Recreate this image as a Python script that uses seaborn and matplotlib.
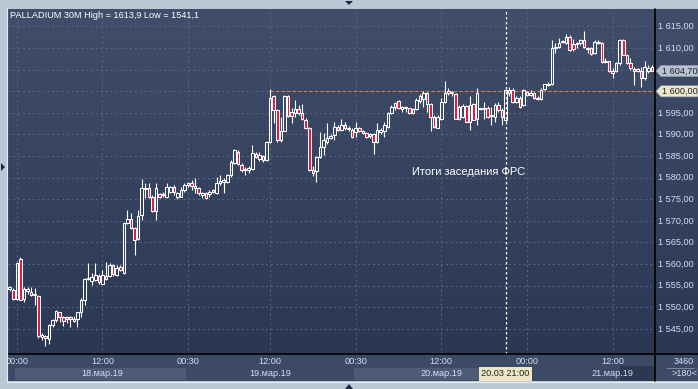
import numpy as np
import pandas as pd
import matplotlib
matplotlib.use("Agg")
import matplotlib.pyplot as plt
import seaborn as sns
from matplotlib.patches import Rectangle, Polygon
from matplotlib.colors import LinearSegmentedColormap

# ---------------- data (30-minute candles, palladium) ----------------
opens = [1554.3, 1554.0, 1551.9, 1561.1, 1552.0, 1553.7, 1553.5, 1552.9, 1552.6, 1543.2,
         1543.4, 1542.6, 1545.9, 1547.1, 1548.8, 1547.7, 1547.2, 1547.7, 1546.9, 1547.4,
         1548.8, 1551.7, 1556.5, 1556.0, 1556.3, 1557.2, 1555.5, 1557.2, 1557.2, 1559.8,
         1557.5, 1559.4, 1557.9, 1569.4, 1570.4, 1568.3, 1565.7, 1571.4, 1577.4, 1577.5,
         1575.5, 1572.4, 1576.2, 1576.0, 1575.6, 1576.8, 1577.9, 1575.6, 1575.6, 1577.1,
         1578.3, 1578.8, 1578.1, 1577.5, 1576.0, 1576.5, 1576.2, 1577.1, 1576.4, 1578.7,
         1578.9, 1579.1, 1580.6, 1583.3, 1586.0, 1582.9, 1581.7, 1581.8, 1582.0, 1585.6,
         1584.3, 1585.0, 1584.1, 1588.3, 1598.8, 1595.7, 1588.7, 1590.9, 1598.8, 1595.1,
         1594.9, 1595.8, 1594.9, 1593.4, 1591.4, 1581.8, 1581.6, 1584.7, 1587.2, 1588.3,
         1589.3, 1589.9, 1591.8, 1591.0, 1592.2, 1591.3, 1591.0, 1590.5, 1591.6, 1590.8,
         1590.3, 1589.7, 1590.0, 1588.3, 1590.5, 1590.8, 1591.8, 1594.9, 1596.4, 1597.7,
         1596.0, 1596.1, 1596.1, 1594.9, 1595.8, 1597.8, 1598.2, 1599.5, 1597.0, 1594.1,
         1591.6, 1593.7, 1597.6, 1600.1, 1599.6, 1599.3, 1593.7, 1594.1, 1596.7, 1593.0,
         1597.0, 1593.6, 1595.9, 1595.9, 1596.1, 1594.3, 1594.1, 1596.8, 1595.7, 1593.4,
         1599.6, 1600.3, 1597.5, 1598.5, 1596.8, 1599.9, 1599.2, 1599.5, 1598.2, 1598.2,
         1600.5, 1601.5, 1601.6, 1610.1, 1610.3, 1611.3, 1611.1, 1612.6, 1610.9, 1610.9,
         1611.1, 1611.9, 1609.9, 1610.0, 1608.8, 1611.1, 1611.1, 1606.7, 1606.9, 1604.7,
         1604.6, 1606.5, 1611.9, 1608.4, 1606.5, 1605.2, 1605.1, 1604.6, 1603.0, 1604.7,
         1605.7]
highs = [1555.0, 1554.4, 1560.4, 1561.6, 1554.6, 1554.6, 1554.6, 1554.4, 1552.9, 1544.0,
         1543.6, 1546.1, 1547.4, 1549.4, 1549.0, 1548.0, 1548.0, 1547.9, 1547.9, 1549.0,
         1552.2, 1556.7, 1560.2, 1557.9, 1560.2, 1557.7, 1558.6, 1560.6, 1560.2, 1560.0,
         1559.8, 1559.8, 1569.8, 1572.5, 1571.9, 1568.7, 1572.5, 1579.6, 1578.7, 1578.7,
         1576.0, 1578.7, 1576.5, 1576.8, 1578.7, 1578.1, 1578.3, 1576.8, 1577.8, 1578.8,
         1579.1, 1579.5, 1579.9, 1577.9, 1576.8, 1576.8, 1577.1, 1577.3, 1580.2, 1580.6,
         1579.9, 1580.8, 1584.1, 1586.6, 1586.3, 1583.3, 1582.4, 1582.7, 1587.6, 1586.0,
         1586.0, 1585.3, 1588.6, 1600.5, 1599.2, 1595.8, 1594.1, 1599.2, 1599.2, 1596.1,
         1598.0, 1596.8, 1597.1, 1593.8, 1591.7, 1582.6, 1585.0, 1590.6, 1590.3, 1592.6,
         1590.0, 1593.0, 1592.2, 1593.7, 1593.0, 1592.0, 1591.4, 1593.0, 1591.8, 1591.0,
         1590.5, 1590.3, 1590.3, 1592.6, 1591.4, 1592.8, 1595.3, 1596.8, 1597.6, 1598.0,
         1596.7, 1596.7, 1596.2, 1596.2, 1598.4, 1599.3, 1600.1, 1599.8, 1597.2, 1594.4,
         1594.5, 1598.4, 1602.4, 1600.8, 1600.1, 1599.5, 1596.8, 1597.0, 1596.8, 1598.8,
         1597.2, 1600.7, 1596.2, 1597.6, 1596.5, 1596.4, 1597.2, 1597.6, 1596.1, 1600.5,
         1601.1, 1600.8, 1598.8, 1598.8, 1600.5, 1600.1, 1600.3, 1599.9, 1598.8, 1600.7,
         1601.8, 1602.1, 1611.9, 1611.1, 1612.3, 1611.9, 1613.2, 1613.0, 1612.0, 1611.5,
         1612.1, 1613.9, 1610.3, 1610.3, 1611.9, 1611.9, 1611.3, 1607.6, 1607.0, 1605.3,
         1606.7, 1612.1, 1612.1, 1608.6, 1607.8, 1605.7, 1605.5, 1605.7, 1606.9, 1606.1,
         1606.0]
lows = [1553.8, 1551.7, 1551.7, 1551.7, 1551.3, 1553.1, 1552.5, 1550.5, 1542.8, 1542.4,
        1541.1, 1541.5, 1545.5, 1546.7, 1546.7, 1545.7, 1546.4, 1545.5, 1546.7, 1545.5,
        1547.8, 1550.5, 1556.3, 1555.2, 1556.2, 1555.5, 1555.4, 1556.3, 1557.1, 1557.2,
        1557.2, 1558.4, 1557.7, 1569.3, 1568.1, 1562.1, 1565.6, 1570.2, 1575.2, 1575.2,
        1572.1, 1570.2, 1575.2, 1575.5, 1575.2, 1576.4, 1576.0, 1575.0, 1575.5, 1576.8,
        1577.9, 1577.1, 1576.4, 1576.0, 1575.2, 1575.0, 1575.6, 1576.4, 1576.3, 1578.3,
        1576.4, 1578.8, 1580.2, 1583.2, 1582.9, 1581.4, 1580.6, 1581.2, 1581.8, 1584.5,
        1583.9, 1583.7, 1583.9, 1588.1, 1592.6, 1588.3, 1588.3, 1590.7, 1594.1, 1592.6,
        1594.1, 1594.5, 1593.4, 1591.2, 1581.6, 1580.4, 1579.1, 1584.5, 1585.3, 1587.9,
        1588.9, 1588.7, 1590.7, 1590.7, 1591.0, 1590.9, 1589.1, 1589.5, 1590.5, 1590.0,
        1589.3, 1589.3, 1585.4, 1588.0, 1590.0, 1589.5, 1591.6, 1594.7, 1595.7, 1595.9,
        1595.3, 1595.3, 1594.7, 1594.7, 1595.7, 1597.2, 1596.4, 1595.1, 1590.7, 1591.6,
        1591.4, 1593.3, 1597.2, 1599.1, 1599.0, 1593.6, 1593.3, 1593.9, 1592.8, 1591.0,
        1593.3, 1592.2, 1595.6, 1593.7, 1593.9, 1592.2, 1593.0, 1595.3, 1592.2, 1593.0,
        1598.8, 1597.2, 1597.2, 1596.2, 1596.6, 1598.8, 1598.8, 1598.2, 1598.0, 1598.0,
        1600.3, 1601.3, 1601.5, 1608.8, 1610.0, 1611.1, 1610.9, 1609.3, 1609.3, 1610.0,
        1610.7, 1610.1, 1608.8, 1608.3, 1608.6, 1610.9, 1606.5, 1606.5, 1604.4, 1603.0,
        1604.4, 1606.2, 1608.3, 1606.3, 1605.0, 1601.5, 1604.4, 1601.1, 1602.6, 1604.2,
        1604.6]
closes = [1554.6, 1552.0, 1560.2, 1551.8, 1554.3, 1554.2, 1552.8, 1552.8, 1543.4, 1543.7,
          1542.8, 1545.9, 1547.1, 1549.2, 1547.7, 1546.9, 1547.7, 1547.2, 1547.4, 1548.8,
          1551.8, 1556.5, 1556.8, 1557.0, 1557.5, 1555.9, 1557.5, 1556.5, 1559.8, 1557.7,
          1559.2, 1558.6, 1569.4, 1570.4, 1568.3, 1565.6, 1571.1, 1577.5, 1577.7, 1575.5,
          1572.4, 1577.5, 1575.6, 1576.2, 1577.8, 1577.8, 1576.8, 1576.4, 1577.1, 1578.3,
          1578.7, 1578.1, 1577.5, 1576.4, 1576.5, 1575.2, 1576.8, 1576.7, 1578.7, 1579.2,
          1579.5, 1580.6, 1583.7, 1586.3, 1583.2, 1581.8, 1582.0, 1582.2, 1585.8, 1584.7,
          1585.3, 1584.1, 1588.3, 1598.4, 1595.7, 1588.7, 1590.9, 1598.8, 1594.3, 1594.3,
          1595.8, 1594.9, 1593.7, 1591.4, 1581.8, 1581.2, 1584.9, 1587.2, 1588.7, 1589.1,
          1589.7, 1591.8, 1591.0, 1592.2, 1591.4, 1591.6, 1589.5, 1591.4, 1590.8, 1590.3,
          1589.5, 1590.0, 1588.3, 1591.0, 1591.0, 1592.2, 1594.9, 1596.4, 1597.4, 1596.1,
          1596.3, 1596.2, 1594.9, 1595.8, 1598.0, 1598.8, 1599.5, 1597.0, 1594.1, 1591.8,
          1594.1, 1597.6, 1599.5, 1599.5, 1599.8, 1593.7, 1596.4, 1596.7, 1593.0, 1596.8,
          1593.4, 1599.5, 1596.1, 1596.1, 1594.1, 1594.5, 1596.8, 1595.7, 1594.1, 1600.3,
          1600.2, 1597.6, 1598.4, 1596.4, 1600.3, 1599.2, 1599.5, 1598.4, 1598.5, 1600.3,
          1601.6, 1601.8, 1610.1, 1610.3, 1611.1, 1611.6, 1612.6, 1609.6, 1609.7, 1611.1,
          1611.9, 1610.3, 1610.1, 1608.6, 1611.5, 1611.5, 1606.7, 1607.0, 1604.6, 1604.2,
          1606.5, 1611.9, 1608.4, 1606.5, 1605.5, 1604.6, 1604.6, 1603.0, 1605.7, 1605.5,
          1604.7]

time_labels = ["00:00", "12:00", "00:30", "12:00", "00:30", "12:00", "00:00", "12:00"]
time_bars = [2, 26, 50, 73, 97, 121, 145, 169]          # candle index of each time label
date_labels = ["18.мар.19", "19.мар.19", "20.мар.19", "21.мар.19"]
date_bars = [26, 73, 121, 169]
day_start_bars = [2, 50, 97, 145]
price_ticks = list(range(1545, 1620, 5))
last_price = 1604.70
level_price = 1600.00
level_start_bar = 73
cursor_bar = 139
cursor_label = "20.03 21:00"
title = "PALLADIUM 30M High = 1613,9 Low = 1541,1"
note = "Итоги заседания ФРС"
bars_info = ["3460", ">180<"]

df = pd.DataFrame({"open": opens, "high": highs, "low": lows, "close": closes})
df["bar"] = np.arange(len(df))
df["up"] = df["close"] >= df["open"]
df["top"] = df[["open", "close"]].max(axis=1)
df["bot"] = df[["open", "close"]].min(axis=1)

# ---------------- style ----------------
sns.set_theme(style="dark")
plt.rcParams['font.family'] = ['Liberation Sans', 'DejaVu Sans']

W, H = 698, 389
def rect(x0, y0, x1, y1):
    return [x0 / W, 1 - y1 / H, (x1 - x0) / W, (y1 - y0) / H]

FRAME = '#bcc7d6'
TXT = '#d3deee'
RED = '#e3173e'
fig = plt.figure(figsize=(W / 100, H / 100), dpi=100)
fig.patch.set_facecolor(FRAME)

XL = (-0.48, 180.9)
YL = (1539.19, 1619.05)

# background gradient for plot + price panel
bg = fig.add_axes(rect(8, 9, 698, 354))
grad = np.linspace(0, 1, 256).reshape(-1, 1)
cmap = LinearSegmentedColormap.from_list('g', ['#414e6b', '#2b3854'])
bg.imshow(grad, aspect='auto', cmap=cmap, extent=[0, 1, 0, 1], origin='upper')
bg.set_axis_off()

# main price axes
ax = fig.add_axes(rect(8, 9, 655, 354))
ax.set_facecolor('none')
ax.set_xlim(*XL)
ax.set_ylim(*YL)
for s in ax.spines.values():
    s.set_visible(False)
ax.set_xticks([])
ax.set_yticks([])
ax.grid(False)

grid_kw = dict(color='#5a6785', lw=0.7, dashes=(2, 3), zorder=1)
for p in price_ticks:
    ax.axhline(p, **grid_kw)
for b in time_bars:
    ax.axvline(b, **grid_kw)

# level line
ax.hlines(level_price, level_start_bar, XL[1], color='#e8793c', lw=0.8,
          linestyles=(0, (3, 2)), zorder=2)

# wicks
ax.vlines(df["bar"], df["top"], df["high"], color='white', lw=0.8, zorder=3)
ax.vlines(df["bar"], df["low"], df["bot"], color='white', lw=0.8, zorder=3)
# bodies
heights = np.maximum(df["top"] - df["bot"], 0.2)
face = np.where(df["up"], 'none', RED)
ax.bar(df["bar"], heights, bottom=df["bot"], width=0.72, color=face,
       edgecolor='white', linewidth=0.75, zorder=4)

# cursor line
ax.axvline(cursor_bar, color='white', lw=0.9, dashes=(2, 2), zorder=5)
ax.text(cursor_bar + 5.5, 1581.3, note, color='white', fontsize=8,
        ha='right', va='center', zorder=6)

# title
fig.text(10 / W, 1 - 15 / H, title, color='white', fontsize=6.6, ha='left', va='center')

# price panel
axr = fig.add_axes(rect(655, 9, 698, 354))
axr.set_xlim(655, 698)
axr.set_ylim(*YL)
axr.set_axis_off()
for p in price_ticks:
    if abs(p - last_price) < 2.5 or abs(p - level_price) < 1:
        continue
    lab = f"{p // 1000} {p % 1000:03d},00"
    axr.text(658, p, lab, color=TXT, fontsize=6.6, ha='left', va='center')

def marker(price, label, fc):
    h = 1.3
    poly = Polygon([(656, price), (661, price + h), (698, price + h),
                    (698, price - h), (661, price - h)], closed=True,
                   facecolor=fc, edgecolor='#8a93a3', lw=0.5, zorder=5)
    axr.add_patch(poly)
    axr.text(662, price, label, color='#1c2230', fontsize=6.6, ha='left',
             va='center', zorder=6)

marker(last_price, "1 604,70", '#b9c2cf')
marker(level_price, "1 600,00", '#efe9c9')

# bottom time panel
axb = fig.add_axes(rect(8, 354, 655, 381))
axb.set_xlim(*XL)
axb.set_ylim(381, 354)
axb.set_facecolor('#3d4a66')
axb.set_xticks([])
axb.set_yticks([])
for s in axb.spines.values():
    s.set_visible(False)
ends = day_start_bars[1:] + [XL[1] + 1]
for i, (b0, b1) in enumerate(zip(day_start_bars, ends)):
    if i % 2 == 0:
        axb.add_patch(Rectangle((b0 - 0.5, 367.5), b1 - b0, 12.5,
                                facecolor='#4e5b77', edgecolor='none'))
axb.add_patch(Rectangle((171.2, 366), XL[1] - 171.2, 15, facecolor='#2c3852',
                        edgecolor='none'))
for b, t in zip(time_bars, time_labels):
    axb.text(b, 362, t, color=TXT, fontsize=6.6, ha='center', va='center', clip_on=True)
for b, t in zip(date_bars, date_labels):
    axb.text(b, 374, t, color=TXT, fontsize=6.6, ha='center', va='center', clip_on=True)
axb.text(cursor_bar, 374, cursor_label, color='#1c2230', fontsize=6.6, ha='center',
         va='center', bbox=dict(boxstyle='square,pad=0.25', fc='#ece6c4', ec='none'))

# bottom-right cell
axc = fig.add_axes(rect(655, 354, 698, 381))
axc.set_xlim(655, 698)
axc.set_ylim(381, 354)
axc.set_facecolor('#3d4a66')
axc.set_xticks([])
axc.set_yticks([])
for s in axc.spines.values():
    s.set_visible(False)
axc.text(684, 361.5, bars_info[0], color=TXT, fontsize=6.6, ha='center', va='center')
axc.text(684, 374, bars_info[1], color=TXT, fontsize=6.6, ha='center', va='center')
axc.plot([667, 694], [368, 368], color='#8894aa', lw=0.6)

# separators
fig.add_artist(plt.Line2D([8 / W, 1], [1 - 354 / H] * 2, color='black', lw=1.2))
fig.add_artist(plt.Line2D([655 / W] * 2, [1 - 9 / H, 1 - 381 / H], color='black', lw=1.2))
fig.add_artist(plt.Line2D([7 / W] * 2, [1 - 8 / H, 1 - 382 / H], color='#e8eef5', lw=0.8))
fig.add_artist(plt.Line2D([7 / W, 1], [1 - 381.5 / H] * 2, color='#e8eef5', lw=0.8))

# small navigation arrows on the frame
tri_kw = dict(closed=True, facecolor='#1b2940', edgecolor='none',
              transform=fig.transFigure)
def px(x, y):
    return (x / W, 1 - y / H)
fig.add_artist(Polygon([px(345, 1), px(353, 1), px(349, 5)], **tri_kw))
fig.add_artist(Polygon([px(345, 389), px(353, 389), px(349, 384)], **tri_kw))
fig.add_artist(Polygon([px(1, 163), px(1, 171), px(5, 167)], **tri_kw))

fig.savefig("out.png", dpi=100, facecolor=fig.get_facecolor())
